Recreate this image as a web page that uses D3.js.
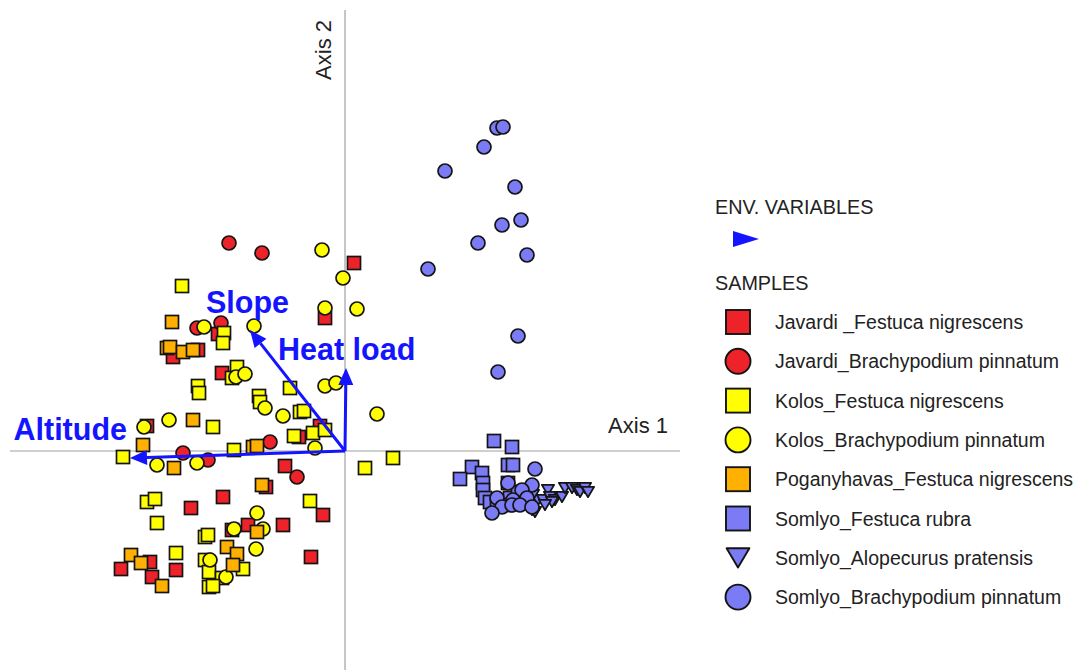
<!DOCTYPE html>
<html>
<head>
<meta charset="utf-8">
<script src="https://cdn.jsdelivr.net/npm/d3@7/dist/d3.min.js"></script>
<style>
  html, body { margin: 0; padding: 0; background: #fff; }
  svg { display: block; }
  text { font-family: "Liberation Sans", Arial, sans-serif; }
</style>
</head>
<body>
<svg id="chart" width="1078" height="670"></svg>
<script>
// Ordination scores (Axis 1, Axis 2) for each sample group
const javardiFestuca = [
  [0.09, 1.88], [-0.20, 1.33], [-1.27, 1.17], [-1.72, 0.94], [-1.47, 1.01], [-1.23, 0.78],
  [-1.98, 0.25], [-0.25, 0.25], [-0.46, 0.14], [-0.60, -0.15], [-0.79, -0.36], [-1.22, -0.46],
  [-1.54, -0.57], [-0.22, -0.64], [-0.62, -0.74], [-0.97, -0.74], [-1.13, -0.79], [-0.34, -1.06],
  [-1.95, -1.11], [-2.24, -1.18], [-1.69, -1.19], [-1.93, -1.26]
];
const javardiBrachypodium = [
  [-1.16, 2.08], [-0.83, 1.98], [-1.48, 1.23], [-1.24, 1.28], [-0.75, 0.09], [-1.62, -0.02],
  [-1.37, -0.09], [-0.48, -0.26]
];
const kolosFestuca = [
  [-1.63, 1.65], [-1.21, 1.18], [-1.22, 1.08], [-1.08, 0.84], [-1.13, 0.73], [-1.47, 0.65],
  [-1.46, 0.58], [-0.55, 0.63], [-0.86, 0.55], [-0.85, 0.49], [-0.45, 0.39], [-0.41, 0.40],
  [-1.32, 0.24], [-0.51, 0.15], [-0.32, 0.18], [-0.20, 0.21], [-1.11, 0.01], [-2.22, -0.06],
  [0.20, -0.17], [0.48, -0.07], [-1.98, -0.51], [-1.90, -0.48], [-0.35, -0.50], [-1.88, -0.72],
  [-1.40, -0.86], [-1.37, -0.84], [-1.69, -1.02], [-1.40, -1.09], [-1.36, -1.21], [-1.02, -1.18],
  [-1.23, -1.27], [-1.36, -1.36], [-1.32, -1.35]
];
const kolosBrachypodium = [
  [-0.23, 2.01], [-0.02, 1.73], [-0.20, 1.43], [0.12, 1.42], [-1.41, 1.24], [-0.91, 1.25],
  [-1.09, 0.74], [-1.00, 0.77], [-0.20, 0.65], [-0.09, 0.68], [0.32, 0.37], [-0.80, 0.43],
  [-0.62, 0.35], [-1.76, 0.31], [-2.01, 0.24], [-0.30, 0.03], [-1.88, -0.14], [-1.48, -0.12],
  [-0.88, -0.62], [-1.11, -0.78], [-0.82, -0.78], [-0.89, -0.98], [-1.35, -1.09], [-1.19, -1.26]
];
const poganyhavasFestuca = [
  [-1.73, 1.29], [-1.78, 1.03], [-1.75, 1.04], [-1.62, 0.99], [-1.52, 1.01], [-1.52, 0.31],
  [-2.02, 0.06], [-1.71, -0.17], [-0.92, 0.04], [-0.88, 0.05], [-0.83, -0.34], [-0.88, -0.81],
  [-2.14, -1.04], [-2.04, -1.12], [-1.83, -1.35], [-1.18, -0.96], [-1.08, -1.03], [-1.12, -1.14]
];
const somlyoFestuca = [
  [1.49, 0.10], [1.67, 0.04], [1.27, -0.16], [1.15, -0.28], [1.37, -0.22], [1.63, -0.14],
  [1.68, -0.14], [1.38, -0.32], [1.38, -0.39], [1.40, -0.47], [1.45, -0.51], [1.63, -0.32],
  [1.65, -0.47], [1.62, -0.54], [1.80, -0.52], [1.52, -0.54], [1.73, -0.41]
];
const somlyoAlopecurus = [
  [1.93, -0.49], [1.88, -0.44], [1.90, -0.61], [1.98, -0.49], [2.03, -0.39], [2.05, -0.46],
  [2.10, -0.49], [2.17, -0.46], [2.20, -0.37], [2.27, -0.37], [2.32, -0.39], [2.35, -0.41],
  [2.40, -0.37], [2.43, -0.41], [2.07, -0.51], [2.00, -0.54], [1.87, -0.59]
];
const somlyoBrachypodium = [
  [1.52, 3.23], [1.58, 3.24], [1.39, 3.04], [1.00, 2.80], [1.70, 2.64], [1.76, 2.31],
  [1.57, 2.26], [1.33, 2.08], [1.82, 1.96], [0.83, 1.82], [1.73, 1.15], [1.53, 0.79],
  [1.90, -0.18], [1.63, -0.32], [1.87, -0.34], [1.77, -0.39], [1.82, -0.47], [1.68, -0.49],
  [1.52, -0.47], [1.57, -0.56], [1.47, -0.62], [1.67, -0.54], [1.75, -0.54], [1.87, -0.56]
];

// Environmental variable vectors (biplot arrows)
const envNames = ["Altitude", "Slope", "Heat load"];
const envVectors = [[-2.15, -0.07], [-0.95, 1.21], [0.01, 0.83]];

// Legend entries, in drawing order
const groupNames = [
  "Javardi _Festuca nigrescens",
  "Javardi_Brachypodium pinnatum",
  "Kolos_Festuca nigrescens",
  "Kolos_Brachypodium pinnatum",
  "Poganyhavas_Festuca nigrescens",
  "Somlyo_Festuca rubra",
  "Somlyo_Alopecurus pratensis",
  "Somlyo_Brachypodium pinnatum"
];
const groupShapes = ["square", "circle", "square", "circle", "square", "square", "triangle", "circle"];
const groupColors = ["#ee2229", "#ee2229", "#ffff00", "#ffff00", "#ffb000", "#7b7bf6", "#7b7bf6", "#7b7bf6"];
const groupData = [javardiFestuca, javardiBrachypodium, kolosFestuca, kolosBrachypodium,
                   poganyhavasFestuca, somlyoFestuca, somlyoAlopecurus, somlyoBrachypodium];

// Axis extents in score units
const xDomain = [-3.35, 3.35];
const yDomain = [-2.19, 4.41];

const svg = d3.select("#chart");
svg.append("rect").attr("width", 1078).attr("height", 670).attr("fill", "#fff");

const x = d3.scaleLinear().domain(xDomain).range([10, 680]);
const y = d3.scaleLinear().domain(yDomain).range([670, 10]);

// Crossed ordination axes
svg.append("line")
  .attr("x1", x(xDomain[0])).attr("x2", x(xDomain[1]))
  .attr("y1", y(0)).attr("y2", y(0))
  .attr("stroke", "#a0a0a0").attr("stroke-width", 1.2);
svg.append("line")
  .attr("x1", x(0)).attr("x2", x(0))
  .attr("y1", y(yDomain[1])).attr("y2", y(yDomain[0]))
  .attr("stroke", "#a0a0a0").attr("stroke-width", 1.2);

svg.append("text")
  .attr("x", x(xDomain[1]) - 12).attr("y", y(0) - 18)
  .attr("text-anchor", "end")
  .attr("font-size", 22).attr("fill", "#222")
  .text("Axis 1");
svg.append("text")
  .attr("transform", `translate(${x(0) - 14},${y(yDomain[1]) + 10}) rotate(-90)`)
  .attr("text-anchor", "end")
  .attr("font-size", 22).attr("fill", "#222")
  .text("Axis 2");

// Marker drawing
const STROKE = "#141414";
function drawMarker(g, shape, color, cx, cy, s, sw) {
  if (shape === "square") {
    g.append("rect")
      .attr("x", cx - s / 2).attr("y", cy - s / 2)
      .attr("width", s).attr("height", s)
      .attr("fill", color).attr("stroke", STROKE).attr("stroke-width", sw);
  } else if (shape === "circle") {
    g.append("circle")
      .attr("cx", cx).attr("cy", cy).attr("r", s / 2 + 0.5)
      .attr("fill", color).attr("stroke", STROKE).attr("stroke-width", sw);
  } else {
    const w = s * 0.95, h = s * 0.8;
    g.append("path")
      .attr("d", `M${cx - w / 2},${cy - h / 2}L${cx + w / 2},${cy - h / 2}L${cx},${cy + h / 2}Z`)
      .attr("fill", color).attr("stroke", STROKE).attr("stroke-width", sw)
      .attr("stroke-linejoin", "round");
  }
}

const pts = svg.append("g");
groupData.forEach((arr, i) => {
  const g = pts.append("g");
  arr.forEach(d => drawMarker(g, groupShapes[i], groupColors[i], x(d[0]), y(d[1]), 13, 1.7));
});

// Environmental arrows
const BLUE = "#1414ff";
const arrows = svg.append("g");
const labelOffsets = [
  { dx: -3, dy: -18, anchor: "end" },
  { dx: -44, dy: -17, anchor: "start" },
  { dx: -68, dy: -8, anchor: "start" }
];
envVectors.forEach((v, i) => {
  const x0 = x(0), y0 = y(0), x1 = x(v[0]), y1 = y(v[1]);
  const len = Math.hypot(x1 - x0, y1 - y0);
  const ux = (x1 - x0) / len, uy = (y1 - y0) / len;
  const headL = 17, headW = 7.5;
  const bx = x1 - ux * headL, by = y1 - uy * headL;
  arrows.append("line")
    .attr("x1", x0).attr("y1", y0).attr("x2", bx).attr("y2", by)
    .attr("stroke", BLUE).attr("stroke-width", 3);
  arrows.append("path")
    .attr("d", `M${x1},${y1}L${bx - uy * headW},${by + ux * headW}L${bx + uy * headW},${by - ux * headW}Z`)
    .attr("fill", BLUE);
  const o = labelOffsets[i];
  arrows.append("text")
    .attr("x", x1 + o.dx).attr("y", y1 + o.dy)
    .attr("text-anchor", o.anchor)
    .attr("font-size", 30.5).attr("font-weight", "bold").attr("fill", BLUE)
    .text(envNames[i]);
});

// Legend
const lg = svg.append("g");
lg.append("text").attr("x", 715).attr("y", 214)
  .attr("font-size", 19.8).attr("fill", "#222").text("ENV. VARIABLES");
lg.append("path")
  .attr("d", "M733,231L759,239L733,247Z").attr("fill", BLUE);
lg.append("text").attr("x", 715).attr("y", 290)
  .attr("font-size", 19.8).attr("fill", "#222").text("SAMPLES");

groupNames.forEach((name, i) => {
  const cy = 322 + i * 39.3;
  drawMarker(lg, groupShapes[i], groupColors[i], 738, cy, 24, 1.9);
  lg.append("text")
    .attr("x", 775).attr("y", cy + 7)
    .attr("font-size", 19.5).attr("fill", "#222")
    .text(name);
});
</script>
</body>
</html>
